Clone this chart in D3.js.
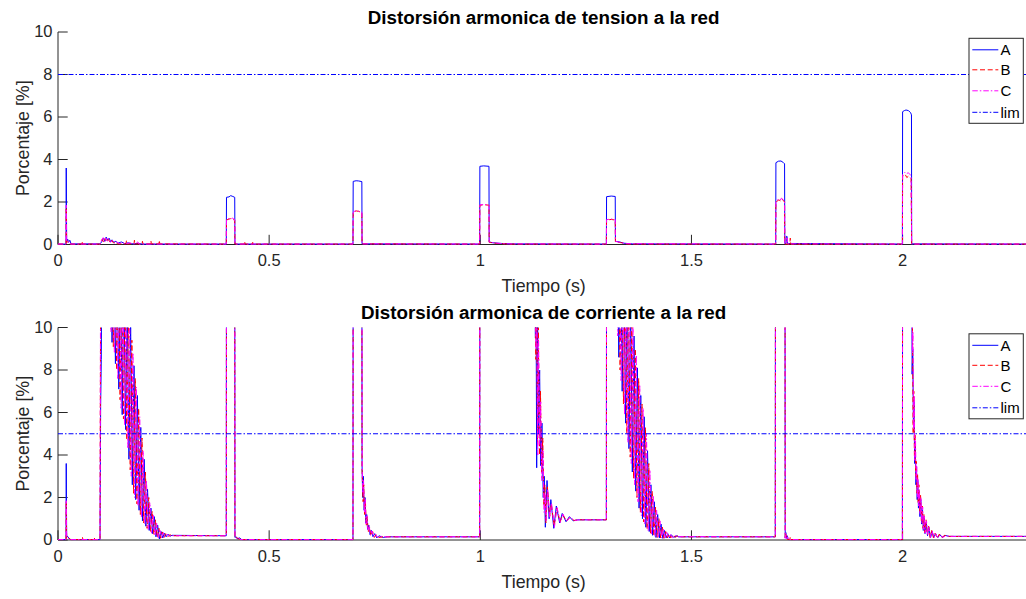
<!DOCTYPE html>
<html>
<head>
<meta charset="utf-8">
<script src="https://cdn.jsdelivr.net/npm/d3@7"></script>
<style>
  html, body { margin: 0; padding: 0; background: #fff; overflow: hidden; }
  svg { display: block; font-family: "Liberation Sans", Arial, Helvetica, sans-serif; }
</style>
</head>
<body>
<svg id="fig" width="1026" height="599"></svg>
<script>
// ---- data -------------------------------------------------------------
const titulos = ["Distorsión armonica de tension a la red", "Distorsión armonica de corriente a la red"];
const etiquetaX = "Tiempo (s)";
const etiquetaY = "Porcentaje [%]";
const nombresSeries = ["A", "B", "C", "lim"];
const xTicks = [0, 0.5, 1, 1.5, 2];
const xTickLabels = ["0", "0.5", "1", "1.5", "2"];
const yTicks = [0, 2, 4, 6, 8, 10];
const xDominio = [0, 2.3];
const yDominio = [0, 10];
const limTension = 8;
const limCorriente = 5;

// THD de tension, fase A  [t (s), %]
const tensionA = [
  [0,0.02],[0.019,0.02],[0.0195,3.6],[0.0205,0.15],[0.023,0.25],[0.025,0.1],[0.028,0.2],[0.031,0.03],
  [0.1,0.03],[0.104,0.15],[0.108,0.3],[0.111,0.15],[0.114,0.35],[0.118,0.2],[0.121,0.3],[0.125,0.12],[0.128,0.22],[0.132,0.1],[0.137,0.15],[0.142,0.06],[0.15,0.12],[0.158,0.04],[0.166,0.08],[0.175,0.03],[0.19,0.05],[0.2,0.02],
  [0.3985,0.02],[0.399,2.22],[0.405,2.24],[0.409,2.3],[0.414,2.26],[0.4185,2.22],[0.419,0.02],
  [0.6985,0.02],[0.699,2.97],[0.706,3.0],[0.712,2.99],[0.7195,2.96],[0.72,0.03],
  [0.9985,0.02],[0.999,3.68],[1.008,3.7],[1.0205,3.68],[1.021,0.12],[1.03,0.08],[1.05,0.05],[1.08,0.03],
  [1.2985,0.02],[1.299,2.25],[1.31,2.28],[1.3195,2.26],[1.32,0.15],[1.33,0.12],[1.34,0.06],[1.36,0.03],
  [1.6995,0.02],[1.7,3.85],[1.706,3.92],[1.712,3.93],[1.718,3.85],[1.7205,3.8],[1.721,0.05],[1.724,0.05],[1.7245,0.38],[1.7265,0.38],[1.727,0.05],
  [1.9995,0.02],[2.0,6.25],[2.004,6.3],[2.008,6.33],[2.014,6.3],[2.019,6.2],[2.021,6.1],[2.0215,0.03],
  [2.3,0.02]
];
// THD de tension, fase B
const tensionB = [
  [0,0.02],[0.019,0.02],[0.0195,1.75],[0.0205,0.1],[0.025,0.15],[0.03,0.02],
  [0.056,0.02],[0.057,0.15],[0.058,0.02],
  [0.1,0.02],[0.105,0.25],[0.108,0.1],[0.112,0.3],[0.115,0.12],[0.119,0.25],[0.123,0.1],[0.127,0.2],[0.131,0.08],[0.136,0.12],[0.14,0.03],
  [0.161,0.03],[0.162,0.18],[0.163,0.03],[0.18,0.03],[0.181,0.2],[0.182,0.03],[0.199,0.03],[0.2,0.15],[0.201,0.03],
  [0.219,0.03],[0.22,0.18],[0.221,0.03],[0.239,0.03],[0.24,0.2],[0.241,0.03],
  [0.3985,0.02],[0.399,1.15],[0.405,1.2],[0.41,1.22],[0.414,1.18],[0.4185,1.15],[0.419,0.02],
  [0.441,0.02],[0.442,0.15],[0.443,0.02],[0.46,0.02],[0.461,0.1],[0.462,0.02],
  [0.6985,0.02],[0.699,1.5],[0.706,1.58],[0.712,1.56],[0.7195,1.5],[0.72,0.03],
  [0.9985,0.02],[0.999,1.85],[1.01,1.87],[1.0205,1.85],[1.021,0.1],[1.04,0.05],[1.07,0.02],
  [1.2985,0.02],[1.299,1.15],[1.31,1.18],[1.3195,1.15],[1.32,0.12],[1.335,0.08],[1.35,0.02],
  [1.6995,0.02],[1.7,2.0],[1.707,2.1],[1.711,2.05],[1.714,2.15],[1.7205,2.0],[1.721,0.02],[1.733,0.02],[1.734,0.3],[1.735,0.02],
  [1.9995,0.02],[2.0,3.2],[2.006,3.3],[2.01,3.15],[2.014,3.22],[2.02,3.1],[2.0215,0.02],
  [2.3,0.02]
];
// THD de tension, fase C
const tensionC = [
  [0,0.02],[0.019,0.02],[0.0195,1.85],[0.0205,0.2],[0.023,0.22],[0.026,0.05],[0.03,0.02],
  [0.1,0.02],[0.103,0.2],[0.107,0.32],[0.11,0.12],[0.113,0.3],[0.117,0.15],[0.12,0.28],[0.124,0.1],[0.129,0.2],[0.133,0.06],[0.138,0.14],[0.145,0.04],[0.152,0.1],[0.16,0.03],[0.17,0.08],[0.18,0.02],[0.189,0.12],[0.192,0.02],
  [0.3985,0.02],[0.399,1.18],[0.405,1.22],[0.409,1.2],[0.413,1.24],[0.4185,1.17],[0.419,0.02],
  [0.6985,0.02],[0.699,1.52],[0.705,1.6],[0.711,1.57],[0.7195,1.52],[0.72,0.03],
  [0.9985,0.02],[0.999,1.87],[1.01,1.88],[1.0205,1.86],[1.021,0.12],[1.035,0.07],[1.06,0.03],
  [1.2985,0.02],[1.299,1.17],[1.31,1.2],[1.3195,1.17],[1.32,0.15],[1.33,0.1],[1.345,0.04],
  [1.6995,0.02],[1.7,2.05],[1.706,2.12],[1.71,2.08],[1.713,2.18],[1.7205,2.05],[1.721,0.05],[1.725,0.05],[1.7255,0.3],[1.727,0.3],[1.7275,0.03],
  [1.9995,0.02],[2.0,3.3],[2.005,3.4],[2.009,3.32],[2.013,3.38],[2.02,3.25],[2.0215,0.02],
  [2.3,0.02]
];

// THD de corriente, fase A  (valores > 10 quedan fuera del eje)
const corrienteA = [
  [0,0.02],[0.019,0.02],[0.0195,3.6],[0.0205,0.2],[0.024,0.15],[0.027,0.05],[0.03,0.02],
  [0.0995,0.02],[0.1,2],[0.101,6.3],[0.1025,8.5],[0.104,15],[0.117,15],
  [0.120,10.5],[0.124,14],[0.128,9.3],[0.132,13.5],[0.136,8.3],[0.140,13],[0.144,7.1],[0.148,12.6],[0.152,5.9],[0.156,12],[0.160,5.2],[0.164,11.2],[0.168,3.8],[0.172,10.1],[0.176,2.6],[0.180,8.2],[0.184,1.9],[0.188,6.8],[0.192,1.4],[0.196,5.3],[0.200,0.9],[0.204,3.8],[0.208,0.65],[0.212,2.4],[0.216,0.45],[0.220,1.5],[0.224,0.3],[0.228,1.1],[0.232,0.15],[0.236,0.7],[0.240,0.05],[0.244,0.4],[0.248,0.1],[0.252,0.32],[0.256,0.15],[0.26,0.28],[0.265,0.18],[0.27,0.22],
  [0.3985,0.2],[0.399,15],[0.4185,15],[0.419,0.12],[0.422,0.15],[0.425,0.05],[0.43,0.1],[0.435,0.02],
  [0.6985,0.02],[0.699,15],[0.7195,15],[0.72,3.5],[0.7215,2.0],[0.723,3.0],[0.725,1.4],[0.727,2.0],[0.729,0.8],[0.731,1.2],[0.733,0.5],[0.736,0.7],[0.739,0.25],[0.742,0.45],[0.746,0.15],[0.75,0.3],[0.755,0.1],[0.76,0.2],[0.77,0.12],[0.78,0.15],
  [0.9985,0.15],[0.999,15],[1.128,15],[1.1305,9.5],[1.1315,14],[1.1335,3.4],[1.1355,11],[1.138,5],[1.1405,8],[1.143,3.5],[1.146,5.5],[1.149,2],[1.1515,3],[1.154,0.6],[1.158,2.8],[1.163,1.0],[1.167,1.9],[1.174,0.55],[1.18,1.6],[1.188,0.8],[1.194,1.25],[1.203,0.86],[1.211,1.1],[1.22,0.9],[1.23,0.95],
  [1.2985,0.95],[1.299,15],[1.316,15],
  [1.320,10.5],[1.324,14.5],[1.328,8.6],[1.332,14],[1.336,7.0],[1.340,13],[1.344,5.5],[1.348,12.2],[1.352,4.3],[1.356,11],[1.360,3.2],[1.364,9.6],[1.368,2.3],[1.372,8.1],[1.376,1.5],[1.380,6.8],[1.384,1.0],[1.388,5.8],[1.392,0.6],[1.396,4.2],[1.400,0.4],[1.404,2.6],[1.408,0.22],[1.412,1.8],[1.416,0.12],[1.420,1.2],[1.424,0.1],[1.428,0.75],[1.432,0.08],[1.436,0.45],[1.44,0.1],[1.444,0.3],[1.448,0.1],[1.452,0.25],[1.458,0.12],[1.465,0.2],[1.47,0.15],
  [1.6985,0.15],[1.699,15],[1.7215,15],[1.722,0.1],[1.7235,0.35],[1.725,0.05],[1.727,0.2],[1.729,0.02],
  [1.9995,0.02],[2.0,15],[2.0215,15],[2.0225,7.8],[2.024,9],[2.0255,5.5],[2.027,6.5],[2.0285,3.6],[2.030,4.6],[2.0315,2.6],[2.033,3.4],[2.0345,1.9],[2.036,2.8],[2.0375,1.5],[2.039,2.3],[2.041,1.1],[2.043,1.9],[2.045,0.75],[2.047,1.5],[2.049,0.45],[2.051,1.1],[2.053,0.3],[2.056,0.85],[2.059,0.2],[2.062,0.6],[2.066,0.1],[2.07,0.4],[2.074,0.12],[2.078,0.3],[2.083,0.1],[2.088,0.25],[2.094,0.12],[2.1,0.22],[2.11,0.17],
  [2.3,0.17]
];
// THD de corriente, fase B
const corrienteB = [
  [0,0.02],[0.019,0.02],[0.0195,1.8],[0.0205,0.1],[0.025,0.12],[0.03,0.02],[0.057,0.02],[0.058,0.12],[0.059,0.02],[0.085,0.02],[0.086,0.1],[0.087,0.02],
  [0.0995,0.02],[0.1,5],[0.1015,15],[0.12,15],
  [0.123,10.2],[0.127,14],[0.131,9.1],[0.135,13.5],[0.139,8.0],[0.143,13],[0.147,6.6],[0.151,12.5],[0.155,5.7],[0.159,11.8],[0.163,4.7],[0.167,11],[0.171,3.3],[0.175,9.4],[0.179,2.2],[0.183,7.6],[0.187,1.7],[0.191,6.2],[0.195,1.2],[0.199,4.8],[0.203,0.8],[0.207,3.2],[0.211,0.55],[0.215,2.0],[0.219,0.38],[0.223,1.35],[0.227,0.25],[0.231,0.95],[0.235,0.12],[0.239,0.55],[0.243,0.08],[0.247,0.38],[0.251,0.12],[0.255,0.3],[0.26,0.16],[0.265,0.25],[0.27,0.2],
  [0.3985,0.2],[0.399,15],[0.4185,15],[0.419,0.1],[0.424,0.12],[0.428,0.03],[0.433,0.08],[0.437,0.02],
  [0.6985,0.02],[0.699,15],[0.7195,15],[0.72,3.3],[0.7225,1.8],[0.724,2.6],[0.726,1.2],[0.728,1.8],[0.73,0.7],[0.732,1.1],[0.735,0.4],[0.738,0.6],[0.741,0.2],[0.745,0.4],[0.749,0.12],[0.753,0.25],[0.76,0.12],[0.77,0.15],
  [0.9985,0.15],[0.999,15],[1.129,15],[1.1315,8.5],[1.133,13],[1.1355,4.5],[1.1375,10],[1.14,4],[1.1425,7],[1.145,3.2],[1.148,4.8],[1.1505,1.6],[1.153,2.6],[1.1555,0.8],[1.159,2.5],[1.164,1.1],[1.168,1.7],[1.175,0.65],[1.181,1.5],[1.189,0.85],[1.195,1.2],[1.204,0.9],[1.212,1.05],[1.222,0.92],[1.232,0.95],
  [1.2985,0.95],[1.299,15],[1.319,15],
  [1.323,10.2],[1.327,14.3],[1.331,8.0],[1.335,13.6],[1.339,6.4],[1.343,12.6],[1.347,5.0],[1.351,11.8],[1.355,3.9],[1.359,10.6],[1.363,2.9],[1.367,9.0],[1.371,2.0],[1.375,7.6],[1.379,1.3],[1.383,6.4],[1.387,0.85],[1.391,5.3],[1.395,0.5],[1.399,3.6],[1.403,0.32],[1.407,2.3],[1.411,0.18],[1.415,1.55],[1.419,0.12],[1.423,1.0],[1.427,0.1],[1.431,0.62],[1.435,0.08],[1.439,0.4],[1.443,0.1],[1.447,0.28],[1.451,0.1],[1.456,0.24],[1.462,0.13],[1.468,0.2],[1.474,0.15],
  [1.6985,0.15],[1.699,15],[1.7215,15],[1.722,0.05],[1.724,0.25],[1.726,0.03],[1.733,0.02],[1.734,0.15],[1.735,0.02],
  [1.9995,0.02],[2.0,15],[2.0225,15],[2.0235,9.5],[2.025,5.0],[2.0265,7],[2.028,3.9],[2.0295,5],[2.031,3],[2.0325,3.7],[2.034,2.2],[2.0355,3.1],[2.037,1.7],[2.0385,2.6],[2.0405,1.3],[2.0425,2.1],[2.0445,0.9],[2.0465,1.6],[2.0485,0.55],[2.0505,1.2],[2.0525,0.35],[2.0555,0.95],[2.0585,0.25],[2.0615,0.65],[2.065,0.12],[2.069,0.45],[2.073,0.1],[2.077,0.32],[2.082,0.08],[2.087,0.28],[2.093,0.12],[2.1,0.22],[2.11,0.17],
  [2.3,0.17]
];
// THD de corriente, fase C
const corrienteC = [
  [0,0.02],[0.019,0.02],[0.0195,1.85],[0.0205,0.15],[0.024,0.1],[0.028,0.02],
  [0.0995,0.02],[0.1,4],[0.101,15],[0.122,15],
  [0.1255,9.8],[0.1295,14],[0.1335,8.8],[0.1375,13.3],[0.1415,7.6],[0.1455,12.8],[0.1495,6.2],[0.1535,12.2],[0.1575,5.4],[0.1615,11.5],[0.1655,4.3],[0.1695,10.6],[0.1735,3.0],[0.1775,8.8],[0.1815,2.0],[0.1855,7.2],[0.1895,1.6],[0.1935,5.8],[0.1975,1.05],[0.2015,4.2],[0.2055,0.75],[0.2095,2.8],[0.2135,0.5],[0.2175,1.75],[0.2215,0.32],[0.2255,1.2],[0.2295,0.2],[0.2335,0.8],[0.2375,0.1],[0.2415,0.45],[0.2455,0.1],[0.2495,0.35],[0.2535,0.14],[0.258,0.28],[0.263,0.18],[0.27,0.2],
  [0.3985,0.2],[0.399,15],[0.4185,15],[0.419,0.15],[0.423,0.08],[0.427,0.12],[0.432,0.02],
  [0.6985,0.02],[0.699,15],[0.7195,15],[0.7205,3.2],[0.722,2.2],[0.7235,2.8],[0.7255,1.3],[0.7275,1.9],[0.7295,0.75],[0.7315,1.15],[0.734,0.45],[0.737,0.65],[0.74,0.22],[0.7435,0.42],[0.7475,0.14],[0.7515,0.28],[0.757,0.12],[0.765,0.17],[0.775,0.15],
  [0.9985,0.15],[0.999,15],[1.1295,15],[1.132,9],[1.1335,12.5],[1.136,4],[1.138,9.5],[1.1405,4.5],[1.143,6.5],[1.1455,2.8],[1.1485,4.2],[1.151,1.3],[1.1535,2.2],[1.156,0.9],[1.1595,2.4],[1.1645,1.05],[1.1685,1.75],[1.1755,0.6],[1.1815,1.55],[1.1895,0.82],[1.1955,1.22],[1.2045,0.88],[1.2125,1.08],[1.2225,0.92],[1.235,0.95],
  [1.2985,0.95],[1.299,15],[1.321,15],
  [1.3255,9.6],[1.3295,14],[1.3335,7.5],[1.3375,13.3],[1.3415,5.9],[1.3455,12.4],[1.3495,4.6],[1.3535,11.5],[1.3575,3.6],[1.3615,10.1],[1.3655,2.6],[1.3695,8.7],[1.3735,1.8],[1.3775,7.3],[1.3815,1.15],[1.3855,6.2],[1.3895,0.75],[1.3935,5.0],[1.3975,0.45],[1.4015,3.3],[1.4055,0.28],[1.4095,2.1],[1.4135,0.16],[1.4175,1.4],[1.4215,0.1],[1.4255,0.9],[1.4295,0.09],[1.4335,0.55],[1.4375,0.08],[1.4415,0.36],[1.4455,0.1],[1.45,0.27],[1.455,0.11],[1.461,0.22],[1.467,0.14],[1.475,0.16],
  [1.6985,0.15],[1.699,15],[1.7215,15],[1.722,0.08],[1.7235,0.3],[1.725,0.05],[1.7275,0.15],[1.73,0.02],
  [1.9995,0.02],[2.0,15],[2.022,15],[2.023,8.8],[2.0245,9.8],[2.026,5.2],[2.0275,6.8],[2.029,3.7],[2.0305,4.8],[2.032,2.8],[2.0335,3.5],[2.035,2.0],[2.0365,2.9],[2.038,1.6],[2.0395,2.4],[2.0415,1.2],[2.0435,2.0],[2.0455,0.8],[2.0475,1.55],[2.0495,0.5],[2.0515,1.15],[2.0535,0.32],[2.0565,0.9],[2.0595,0.22],[2.0625,0.62],[2.066,0.11],[2.07,0.42],[2.074,0.1],[2.078,0.3],[2.083,0.1],[2.089,0.26],[2.095,0.12],[2.102,0.2],[2.112,0.17],
  [2.3,0.17]
];

// ---- drawing ----------------------------------------------------------
const svg = d3.select("#fig");
const W = 1026;
const left = 58, right = 1029.3;
const ink = "#262626";
const colores = ["#0000ff", "#ff0000", "#ff00ff"];
const trazos = [null, "5,2.7", "5.5,2,1.5,2"];
const colorLim = "#0000ff";
const trazoLim = "5,2,1.5,2";

const panels = [
  { titulo: titulos[0], series: [tensionA, tensionB, tensionC], lim: limTension, top: 32, bottom: 244.5 },
  { titulo: titulos[1], series: [corrienteA, corrienteB, corrienteC], lim: limCorriente, top: 327.5, bottom: 540 }
];

svg.append("rect").attr("width", W).attr("height", 599).attr("fill", "#fff");

panels.forEach((p, i) => {
  const x = d3.scaleLinear().domain(xDominio).range([left, right]);
  const y = d3.scaleLinear().domain(yDominio).range([p.bottom, p.top]);
  const g = svg.append("g");

  const clipId = "clip" + i;
  svg.append("clipPath").attr("id", clipId)
    .append("rect").attr("x", left).attr("y", p.top)
    .attr("width", right - left).attr("height", p.bottom - p.top + 1);

  // axes (ticks pointing inward, no box)
  const ax = d3.axisBottom(x).tickValues(xTicks).tickFormat((d, k) => xTickLabels[k])
    .tickSizeInner(-9.7).tickSizeOuter(0).tickPadding(10).offset(0);
  const ay = d3.axisLeft(y).tickValues(yTicks).tickFormat(d3.format("d"))
    .tickSizeInner(-9.7).tickSizeOuter(0).tickPadding(5.5).offset(0);

  const gx = g.append("g").attr("transform", `translate(0,${p.bottom})`).call(ax);
  const gy = g.append("g").attr("transform", `translate(${left},0)`).call(ay);
  [gx, gy].forEach(a => {
    a.select(".domain").attr("stroke", ink).attr("stroke-width", 1);
    a.selectAll(".tick line").attr("stroke", ink).attr("stroke-width", 1);
    a.selectAll(".tick text").attr("fill", ink).style("font-size", "16.5px")
      .style("font-family", '"Liberation Sans", Arial, sans-serif');
  });

  // data lines
  const line = d3.line().x(d => x(d[0])).y(d => y(d[1]));
  const plot = g.append("g").attr("clip-path", `url(#${clipId})`);
  p.series.forEach((s, k) => {
    plot.append("path").datum(s)
      .attr("d", line)
      .attr("fill", "none")
      .attr("stroke", colores[k])
      .attr("stroke-width", 1)
      .attr("stroke-linejoin", "miter")
      .attr("stroke-dasharray", trazos[k]);
  });
  plot.append("path").datum([[xDominio[0], p.lim], [xDominio[1], p.lim]])
    .attr("d", line).attr("fill", "none")
    .attr("stroke", colorLim).attr("stroke-width", 1)
    .attr("stroke-dasharray", trazoLim);

  // title and labels
  const cx = (left + right) / 2;
  g.append("text").attr("x", cx).attr("y", p.top - 8.5)
    .attr("text-anchor", "middle").attr("font-weight", "bold")
    .attr("font-size", 18.8).attr("fill", "#000").text(p.titulo);
  g.append("text").attr("x", cx).attr("y", p.bottom + 47.5)
    .attr("text-anchor", "middle").attr("font-size", 17.8).attr("fill", ink).text(etiquetaX);
  g.append("text")
    .attr("transform", `translate(29.3,${(p.top + p.bottom) / 2}) rotate(-90)`)
    .attr("text-anchor", "middle").attr("font-size", 17.8).attr("fill", ink).text(etiquetaY);

  // legend
  const lx = 969, ly = p.top + 6.3, lw = 54.3, lh = 85;
  const leg = g.append("g");
  leg.append("rect").attr("x", lx).attr("y", ly).attr("width", lw).attr("height", lh)
    .attr("fill", "#fff").attr("stroke", ink).attr("stroke-width", 1);
  const filas = [11.5, 31.5, 52.5, 74];
  nombresSeries.forEach((n, k) => {
    const yy = ly + filas[k];
    leg.append("line").attr("x1", lx + 3.3).attr("x2", lx + 29.3)
      .attr("y1", yy).attr("y2", yy)
      .attr("stroke", k < 3 ? colores[k] : colorLim).attr("stroke-width", 1)
      .attr("stroke-dasharray", k < 3 ? trazos[k] : trazoLim);
    leg.append("text").attr("x", lx + 31.5).attr("y", yy + 5.3)
      .attr("font-size", 15).attr("fill", "#000").text(n);
  });
});
</script>
</body>
</html>
